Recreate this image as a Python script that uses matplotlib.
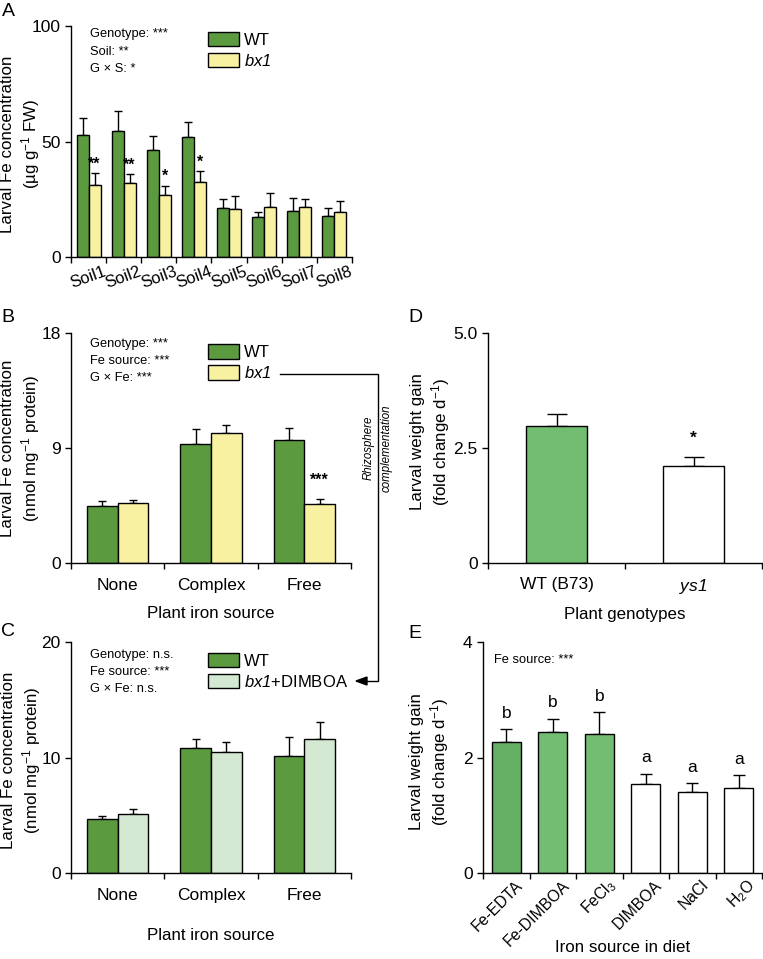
import matplotlib
matplotlib.use('Agg')
import matplotlib.pyplot as plt
from matplotlib.transforms import ScaledTranslation
from matplotlib.patches import Patch
import numpy as np

plt.rcParams['font.family'] = ['Liberation Sans', 'DejaVu Sans']
plt.rcParams['mathtext.fontset'] = 'custom'
plt.rcParams['mathtext.rm'] = 'Liberation Sans'
plt.rcParams['mathtext.it'] = 'Liberation Sans:italic'
plt.rcParams['mathtext.sf'] = 'Liberation Sans:italic'  # italic incl. digits (bx1, ys1)
plt.rcParams['mathtext.bf'] = 'Liberation Sans:bold'
plt.rcParams['font.size'] = 12

# ---- data ----
soils = ['Soil1', 'Soil2', 'Soil3', 'Soil4', 'Soil5', 'Soil6', 'Soil7', 'Soil8']
a_wt = [52.7, 54.4, 46.2, 51.9, 21.4, 17.2, 19.9, 17.6]
a_wt_err = [7.3, 8.8, 6.3, 6.5, 3.9, 2.1, 5.5, 3.6]
a_bx1 = [31.0, 32.0, 27.0, 32.5, 20.8, 21.5, 21.5, 19.3]
a_bx1_err = [5.5, 3.9, 3.9, 4.6, 5.8, 6.3, 3.6, 5.1]
a_stars = ['**', '**', '*', '*', '', '', '', '']

sources = ['None', 'Complex', 'Free']
b_wt = [4.43, 9.31, 9.63]
b_wt_err = [0.40, 1.15, 0.94]
b_bx1 = [4.72, 10.15, 4.62]
b_bx1_err = [0.21, 0.68, 0.36]
b_stars = ['', '', '***']

c_wt = [4.67, 10.78, 10.14]
c_wt_err = [0.26, 0.81, 1.66]
c_dim = [5.13, 10.46, 11.59]
c_dim_err = [0.38, 0.84, 1.45]

d_geno = ['WT (B73)', r'$\mathsf{ys1}$']
d_val = [2.975, 2.11]
d_err = [0.265, 0.20]
d_stars = ['', '*']

e_src = ['Fe-EDTA', 'Fe-DIMBOA', 'FeCl$_3$', 'DIMBOA', 'NaCl', 'H$_2$O']
e_val = [2.26, 2.44, 2.41, 1.54, 1.41, 1.48]
e_err = [0.23, 0.23, 0.37, 0.18, 0.14, 0.21]
e_letters = ['b', 'b', 'b', 'a', 'a', 'a']

# colours
WT_GREEN = '#5c9a3f'
BX1_YELLOW = '#f8f1a2'
DIMBOA_GREEN = '#d3e9d1'
PALE_GREEN = '#72bd72'
EDTA_GREEN = '#66b066'

TICK_FS = 12.5
LABEL_FS = 12.2

W, H = 763, 959
fig = plt.figure(figsize=(W / 100, H / 100), dpi=100)


def fx(x):
    return x / W


def fy(y):
    return 1 - y / H


def make_axes(left, top, right, bottom):
    ax = fig.add_axes([fx(left), fy(bottom), (right - left) / W, (bottom - top) / H])
    ax.spines['top'].set_visible(False)
    ax.spines['right'].set_visible(False)
    for s in ['left', 'bottom']:
        ax.spines[s].set_linewidth(1.0)
    ax.tick_params(which='major', direction='out', length=4, width=1.0, labelsize=TICK_FS)
    return ax


def bars(ax, x, vals, errs, color, width, capsize):
    ax.bar(x, vals, width=width, color=color, edgecolor='black', linewidth=1.0, zorder=2)
    ax.errorbar(x, vals, yerr=[np.zeros(len(vals)), errs], fmt='none', ecolor='black',
                elinewidth=1.0, capsize=capsize, capthick=1.0, zorder=1)


def group_axis(ax, labels, n, pad=8, rotation=0, size=TICK_FS):
    ax.set_xlim(-0.5, n - 0.5)
    ax.set_xticks(np.arange(n + 1) - 0.5)
    ax.set_xticklabels([])
    ax.set_xticks(np.arange(n), minor=True)
    ax.set_xticklabels(labels, minor=True, rotation=rotation)
    ax.tick_params(axis='x', which='minor', length=0, pad=pad, labelsize=size)


def stats_text(x, y0, lines):
    for i, t in enumerate(lines):
        fig.text(fx(x), fy(y0 + 17.2 * i), t, fontsize=9.3, ha='left', va='center')


def legend(ax, handles_labels, anchor):
    hs = [Patch(facecolor=c, edgecolor='black', linewidth=1.0) for c, _ in handles_labels]
    ax.legend(hs, [l for _, l in handles_labels], loc='upper left', bbox_to_anchor=anchor,
              frameon=False, fontsize=12, handlelength=1.85, handleheight=0.95,
              handletextpad=0.3, labelspacing=0.3, borderpad=0, borderaxespad=0)


def ylabel(x, y, text):
    fig.text(fx(x), fy(y), text, rotation=90, ha='center', va='center', fontsize=LABEL_FS)


def xlabel(x, y, text):
    fig.text(fx(x), fy(y), text, ha='center', va='center', fontsize=LABEL_FS)


# ---------------- Panel A ----------------
axA = make_axes(71, 26, 352, 257)
xa = np.arange(len(soils))
wa = 0.34
bars(axA, xa - wa / 2, a_wt, a_wt_err, WT_GREEN, wa, 3.2)
bars(axA, xa + wa / 2, a_bx1, a_bx1_err, BX1_YELLOW, wa, 3.2)
axA.set_ylim(0, 100)
axA.set_yticks([0, 50, 100])
group_axis(axA, soils, len(soils), pad=5, rotation=20, size=12)
for lab in axA.get_xticklabels(minor=True):
    lab.set_ha('center')
for i, s in enumerate(a_stars):
    if s:
        axA.annotate(s, (xa[i] + wa / 2, a_bx1[i] + a_bx1_err[i]), xytext=(0, 1),
                     textcoords='offset points', ha='center', va='bottom',
                     fontsize=11.5, fontweight='bold')
legend(axA, [(WT_GREEN, 'WT'), (BX1_YELLOW, r'$\mathsf{bx1}$')], (0.4875, 0.975))
stats_text(90, 34.5, ['Genotype: ***', 'Soil: **', 'G \u00d7 S: *'])
ylabel(21, 144, 'Larval Fe concentration\n(\u00b5g g$^{-1}$ FW)')

# ---------------- Panel B ----------------
axB = make_axes(71, 333, 351, 563)
xb = np.arange(len(sources))
wb = 0.327
bars(axB, xb - wb / 2, b_wt, b_wt_err, WT_GREEN, wb, 3.0)
bars(axB, xb + wb / 2, b_bx1, b_bx1_err, BX1_YELLOW, wb, 3.0)
axB.set_ylim(0, 18)
axB.set_yticks([0, 9, 18])
group_axis(axB, sources, 3, pad=11)
for i, s in enumerate(b_stars):
    if s:
        axB.annotate(s, (xb[i] + wb / 2, b_bx1[i] + b_bx1_err[i]), xytext=(0, 8),
                     textcoords='offset points', ha='center', va='bottom',
                     fontsize=11.5, fontweight='bold')
xlabel(211, 613, 'Plant iron source')
legend(axB, [(WT_GREEN, 'WT'), (BX1_YELLOW, r'$\mathsf{bx1}$')], (0.489, 0.95))
stats_text(90, 344, ['Genotype: ***', 'Fe source: ***', 'G \u00d7 Fe: ***'])
ylabel(21, 448, 'Larval Fe concentration\n(nmol mg$^{-1}$ protein)')

# ---------------- Panel C ----------------
axC = make_axes(71, 642, 351, 873)
bars(axC, xb - wb / 2, c_wt, c_wt_err, WT_GREEN, wb, 3.0)
bars(axC, xb + wb / 2, c_dim, c_dim_err, DIMBOA_GREEN, wb, 3.0)
axC.set_ylim(0, 20)
axC.set_yticks([0, 10, 20])
group_axis(axC, sources, 3, pad=11)
xlabel(211, 935, 'Plant iron source')
legend(axC, [(WT_GREEN, 'WT'), (DIMBOA_GREEN, r'$\mathsf{bx1}$+DIMBOA')], (0.489, 0.952))
stats_text(90, 655, ['Genotype: n.s.', 'Fe source: ***', 'G \u00d7 Fe: n.s.'])
ylabel(22, 760, 'Larval Fe concentration\n(nmol mg$^{-1}$ protein)')

# rhizosphere complementation bracket (B legend -> C legend)
fig.add_artist(plt.Line2D([fx(280), fx(378), fx(378), fx(363)],
                          [fy(374), fy(374), fy(681), fy(681)],
                          color='black', linewidth=1.0))
fig.patches.append(plt.Polygon([[fx(356), fy(681)], [fx(367), fy(677)], [fx(367), fy(685)]],
                               closed=True, color='black', transform=fig.transFigure))
fig.text(fx(377.5), fy(448), 'Rhizosphere\ncomplementation', rotation=90, ha='center',
         va='center', fontsize=8.3, style='italic', linespacing=1.6)

# ---------------- Panel D ----------------
axD = make_axes(488, 333, 762, 563)
xd = np.arange(len(d_geno))
bars(axD, xd, d_val, d_err, [PALE_GREEN, 'white'], 0.45, 7.2)
axD.set_ylim(0, 5)
axD.set_yticks([0, 2.5, 5.0])
axD.set_yticklabels(['0', '2.5', '5.0'])
group_axis(axD, d_geno, 2, pad=10)
for i, s in enumerate(d_stars):
    if s:
        axD.annotate(s, (xd[i], d_val[i] + d_err[i]), xytext=(0, 8),
                     textcoords='offset points', ha='center', va='bottom',
                     fontsize=12.5, fontweight='bold')
xlabel(625, 614, 'Plant genotypes')
ylabel(431, 442, 'Larval weight gain\n(fold change d$^{-1}$)')

# ---------------- Panel E ----------------
axE = make_axes(483, 642, 762, 873)
xe = np.arange(len(e_src))
e_cols = [EDTA_GREEN, PALE_GREEN, PALE_GREEN, 'white', 'white', 'white']
bars(axE, xe, e_val, e_err, e_cols, 0.617, 4.3)
axE.set_ylim(0, 4)
axE.set_yticks([0, 2, 4])
group_axis(axE, e_src, len(e_src), pad=7, rotation=45, size=11.3)
shift = ScaledTranslation(0.14, 0, fig.dpi_scale_trans)
for lab in axE.get_xticklabels(minor=True):
    lab.set_ha('right')
    lab.set_va('center')
    lab.set_rotation_mode('anchor')
    lab.set_transform(lab.get_transform() + shift)
for i, s in enumerate(e_letters):
    axE.annotate(s, (xe[i], e_val[i] + e_err[i]), xytext=(0, 6),
                 textcoords='offset points', ha='center', va='bottom', fontsize=12.5)
xlabel(623, 948, 'Iron source in diet')
stats_text(494, 660, ['Fe source: ***'])
ylabel(430, 762, 'Larval weight gain\n(fold change d$^{-1}$)')

# panel letters
for lbl, x, y in [('A', 8, 12), ('B', 8, 318), ('C', 8, 632), ('D', 415, 318), ('E', 415, 633)]:
    fig.text(fx(x), fy(y), lbl, fontsize=14, ha='center', va='center')

fig.savefig('out.png', dpi=100)
